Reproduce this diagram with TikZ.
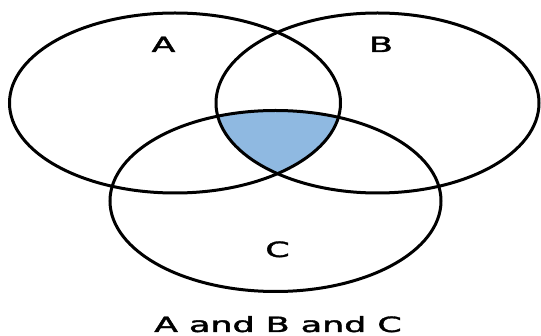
\documentclass[tikz,border=0pt]{standalone}
\usepackage{fontspec}
\setmainfont{DejaVu Sans}
\newfontface\labelfont{DejaVu Sans}[FakeBold=1.6]
\definecolor{setfill}{RGB}{143,185,225}
\begin{document}
\begin{tikzpicture}[x=1pt,y=-1pt,
  setline/.style={draw=black,line width=3pt},
  setlabel/.style={inner sep=0pt,anchor=base,xscale=1.66,font=\labelfont\fontsize{21}{25}\selectfont}]
\useasboundingbox (0,0) rectangle (541,336);
\fill[white] (0,0) rectangle (541,336);
\begin{scope}
  \clip (175,103) ellipse [x radius=165.5, y radius=90];
  \clip (377.5,103) ellipse [x radius=161.5, y radius=90];
  \fill[setfill] (275.5,201) ellipse [x radius=165.5, y radius=90.5];
\end{scope}
\draw[setline] (175,103) ellipse [x radius=165.5, y radius=90];
\draw[setline] (377.5,103) ellipse [x radius=161.5, y radius=90];
\draw[setline] (275.5,201) ellipse [x radius=165.5, y radius=90.5];
\node[setlabel] (la) at (163.5,52) {A};
\node[setlabel] (lb) at (381,52) {B};
\node[setlabel] (lc) at (277.5,257) {C};
\node[setlabel] (cap) at (278,332) {A and B and C};
\end{tikzpicture}
\end{document}
